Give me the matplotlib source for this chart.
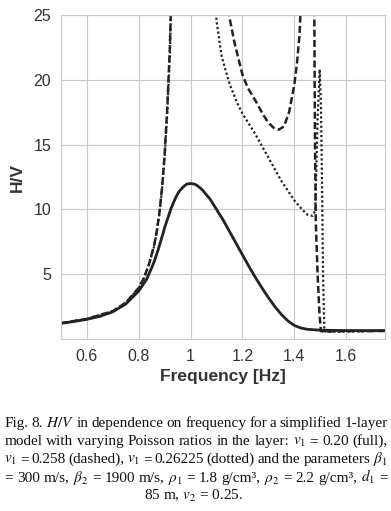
import numpy as np
import matplotlib
matplotlib.use("Agg")
import matplotlib.pyplot as plt

plt.rcParams['mathtext.fontset'] = 'stix'

# valores (frecuencia en Hz, cociente H/V)
f_full = [0.50, 0.55, 0.60, 0.65, 0.70, 0.75, 0.80, 0.83, 0.85, 0.86, 0.875,
          0.89, 0.90, 0.91, 0.925, 0.94, 0.95, 0.96, 0.975, 0.985, 1.00,
          1.015, 1.025, 1.04, 1.05, 1.06, 1.075, 1.10, 1.125, 1.15,
          1.175, 1.20, 1.225, 1.25, 1.275, 1.30, 1.325, 1.35, 1.375, 1.40,
          1.425, 1.45, 1.50, 1.60, 1.75]
hv_full = [1.21, 1.35, 1.52, 1.75, 2.10, 2.70, 3.70, 4.60, 5.50, 6.00, 6.90,
           7.90, 8.60, 9.20, 10.1, 10.8, 11.2, 11.5, 11.8, 11.95, 12.0,
           11.95, 11.85, 11.6, 11.4, 11.15, 10.8, 10.0, 9.2, 8.3,
           7.4, 6.5, 5.6, 4.75, 3.95, 3.2, 2.5, 1.9, 1.4, 1.05,
           0.85, 0.75, 0.68, 0.65, 0.65]

f_dash = [0.50, 0.60, 0.70, 0.75, 0.80, 0.82, 0.84, 0.86, 0.87, 0.88, 0.89,
          0.90, 0.91, 0.92, 0.93, 1.14, 1.15, 1.17, 1.20, 1.22, 1.25, 1.28,
          1.30, 1.32, 1.34, 1.36, 1.38, 1.40, 1.41, 1.42, 1.435, 1.475, 1.477,
          1.480, 1.483, 1.490, 1.497, 1.503, 1.52, 1.60, 1.75]
hv_dash = [1.22, 1.55, 2.15, 2.80, 3.95, 4.70, 5.80, 7.30, 8.40, 9.80, 11.7,
           14.3, 17.8, 22.5, 30.0, 30.0, 24.8, 22.8, 20.4, 19.4, 18.4, 17.3,
           16.7, 16.3, 16.15, 16.4, 17.5, 19.6, 21.2, 23.4, 30.0, 30.0, 26.0,
           15.0, 9.0, 5.0, 2.0, 0.60, 0.58, 0.60, 0.62]

f_dot = [0.50, 0.60, 0.70, 0.75, 0.80, 0.82, 0.84, 0.86, 0.87, 0.88, 0.89,
         0.90, 0.91, 0.92, 0.93, 1.09, 1.10, 1.12, 1.15, 1.18, 1.20, 1.25,
         1.30, 1.35, 1.40, 1.43, 1.45, 1.47, 1.481, 1.485, 1.490, 1.498,
         1.503, 1.507, 1.511, 1.516, 1.53, 1.60, 1.75]
hv_dot = [1.22, 1.55, 2.15, 2.80, 3.95, 4.70, 5.80, 7.20, 8.30, 9.70, 11.6,
          14.1, 17.5, 22.0, 30.0, 30.0, 24.5, 21.8, 19.7, 18.2, 17.4, 15.8,
          14.0, 12.2, 10.7, 10.0, 9.6, 9.5, 9.9, 13.0, 17.0, 20.8,
          18.0, 12.0, 5.0, 0.6, 0.55, 0.58, 0.62]

xticks = [0.6, 0.8, 1.0, 1.2, 1.4, 1.6]
xticklabels = ['0.6', '0.8', '1', '1.2', '1.4', '1.6']
yticks = [5, 10, 15, 20, 25]

caption = [
    r"Fig. 8. $H/V$ in dependence on frequency for a simplified 1-layer",
    r"model with varying Poisson ratios in the layer: $v_1$ = 0.20 (full),",
    r"$v_1$ = 0.258 (dashed), $v_1$ = 0.26225 (dotted) and the parameters $\beta_1$",
    r"= 300 m/s, $\beta_2$ = 1900 m/s, $\rho_1$ = 1.8 g/cm³, $\rho_2$ = 2.2 g/cm³, $d_1$ =",
    r"85 m, $v_2$ = 0.25.",
]

W, H = 391, 511
fig = plt.figure(figsize=(W / 100, H / 100), dpi=100)
ax = fig.add_axes([61 / W, 1 - 339 / H, 324 / W, 324 / H])

c = '#222222'
ax.plot(f_full, hv_full, color=c, lw=2.0, solid_capstyle='round',
        solid_joinstyle='round')
ax.plot(f_dash, hv_dash, color=c, lw=1.8, ls=(0, (2.8, 1.3)))
ax.plot(f_dot, hv_dot, color=c, lw=1.6, ls=(0, (1.0, 1.1)))

ax.set_xlim(0.5, 1.75)
ax.set_ylim(0, 25)
ax.set_xticks(xticks)
ax.set_xticklabels(xticklabels)
ax.set_yticks(yticks)
ax.grid(True, color='#c8c8c8', lw=0.8)
ax.set_axisbelow(True)
for s in ax.spines.values():
    s.set_color('#c8c8c8')
    s.set_linewidth(0.8)
ax.tick_params(length=0, pad=7, labelsize=11.5, labelcolor='#333333')
for lab in ax.get_xticklabels() + ax.get_yticklabels():
    lab.set_family('Liberation Sans')
ax.set_xlabel('Frequency [Hz]', family='Liberation Sans', fontweight='bold',
              fontsize=12.5, color='#333333', labelpad=4)
ax.set_ylabel('H/V', family='Liberation Sans', fontweight='bold',
              fontsize=12.5, color='#333333', labelpad=6)

# leyenda de la figura, justificada palabra por palabra
x0, x1 = 4.5, 387.5
baselines = [426.7, 445.0, 463.3, 481.6, 500.0]
renderer = fig.canvas.get_renderer()
for i, (linea, yb) in enumerate(zip(caption, baselines)):
    if i == len(caption) - 1:
        fig.text(194 / W, 1 - yb / H, linea, ha='center', va='baseline',
                 family='Liberation Serif', fontsize=11, color='#111111')
        continue
    palabras = linea.split(' ')
    textos = [fig.text(0, 1 - yb / H, p, ha='left', va='baseline',
                       family='Liberation Serif', fontsize=11, color='#111111')
              for p in palabras]
    anchos = [t.get_window_extent(renderer).width for t in textos]
    hueco = (x1 - x0 - sum(anchos)) / (len(palabras) - 1)
    x = x0
    for t, w in zip(textos, anchos):
        t.set_x(x / W)
        x += w + hueco

fig.savefig('out.png', dpi=100)
